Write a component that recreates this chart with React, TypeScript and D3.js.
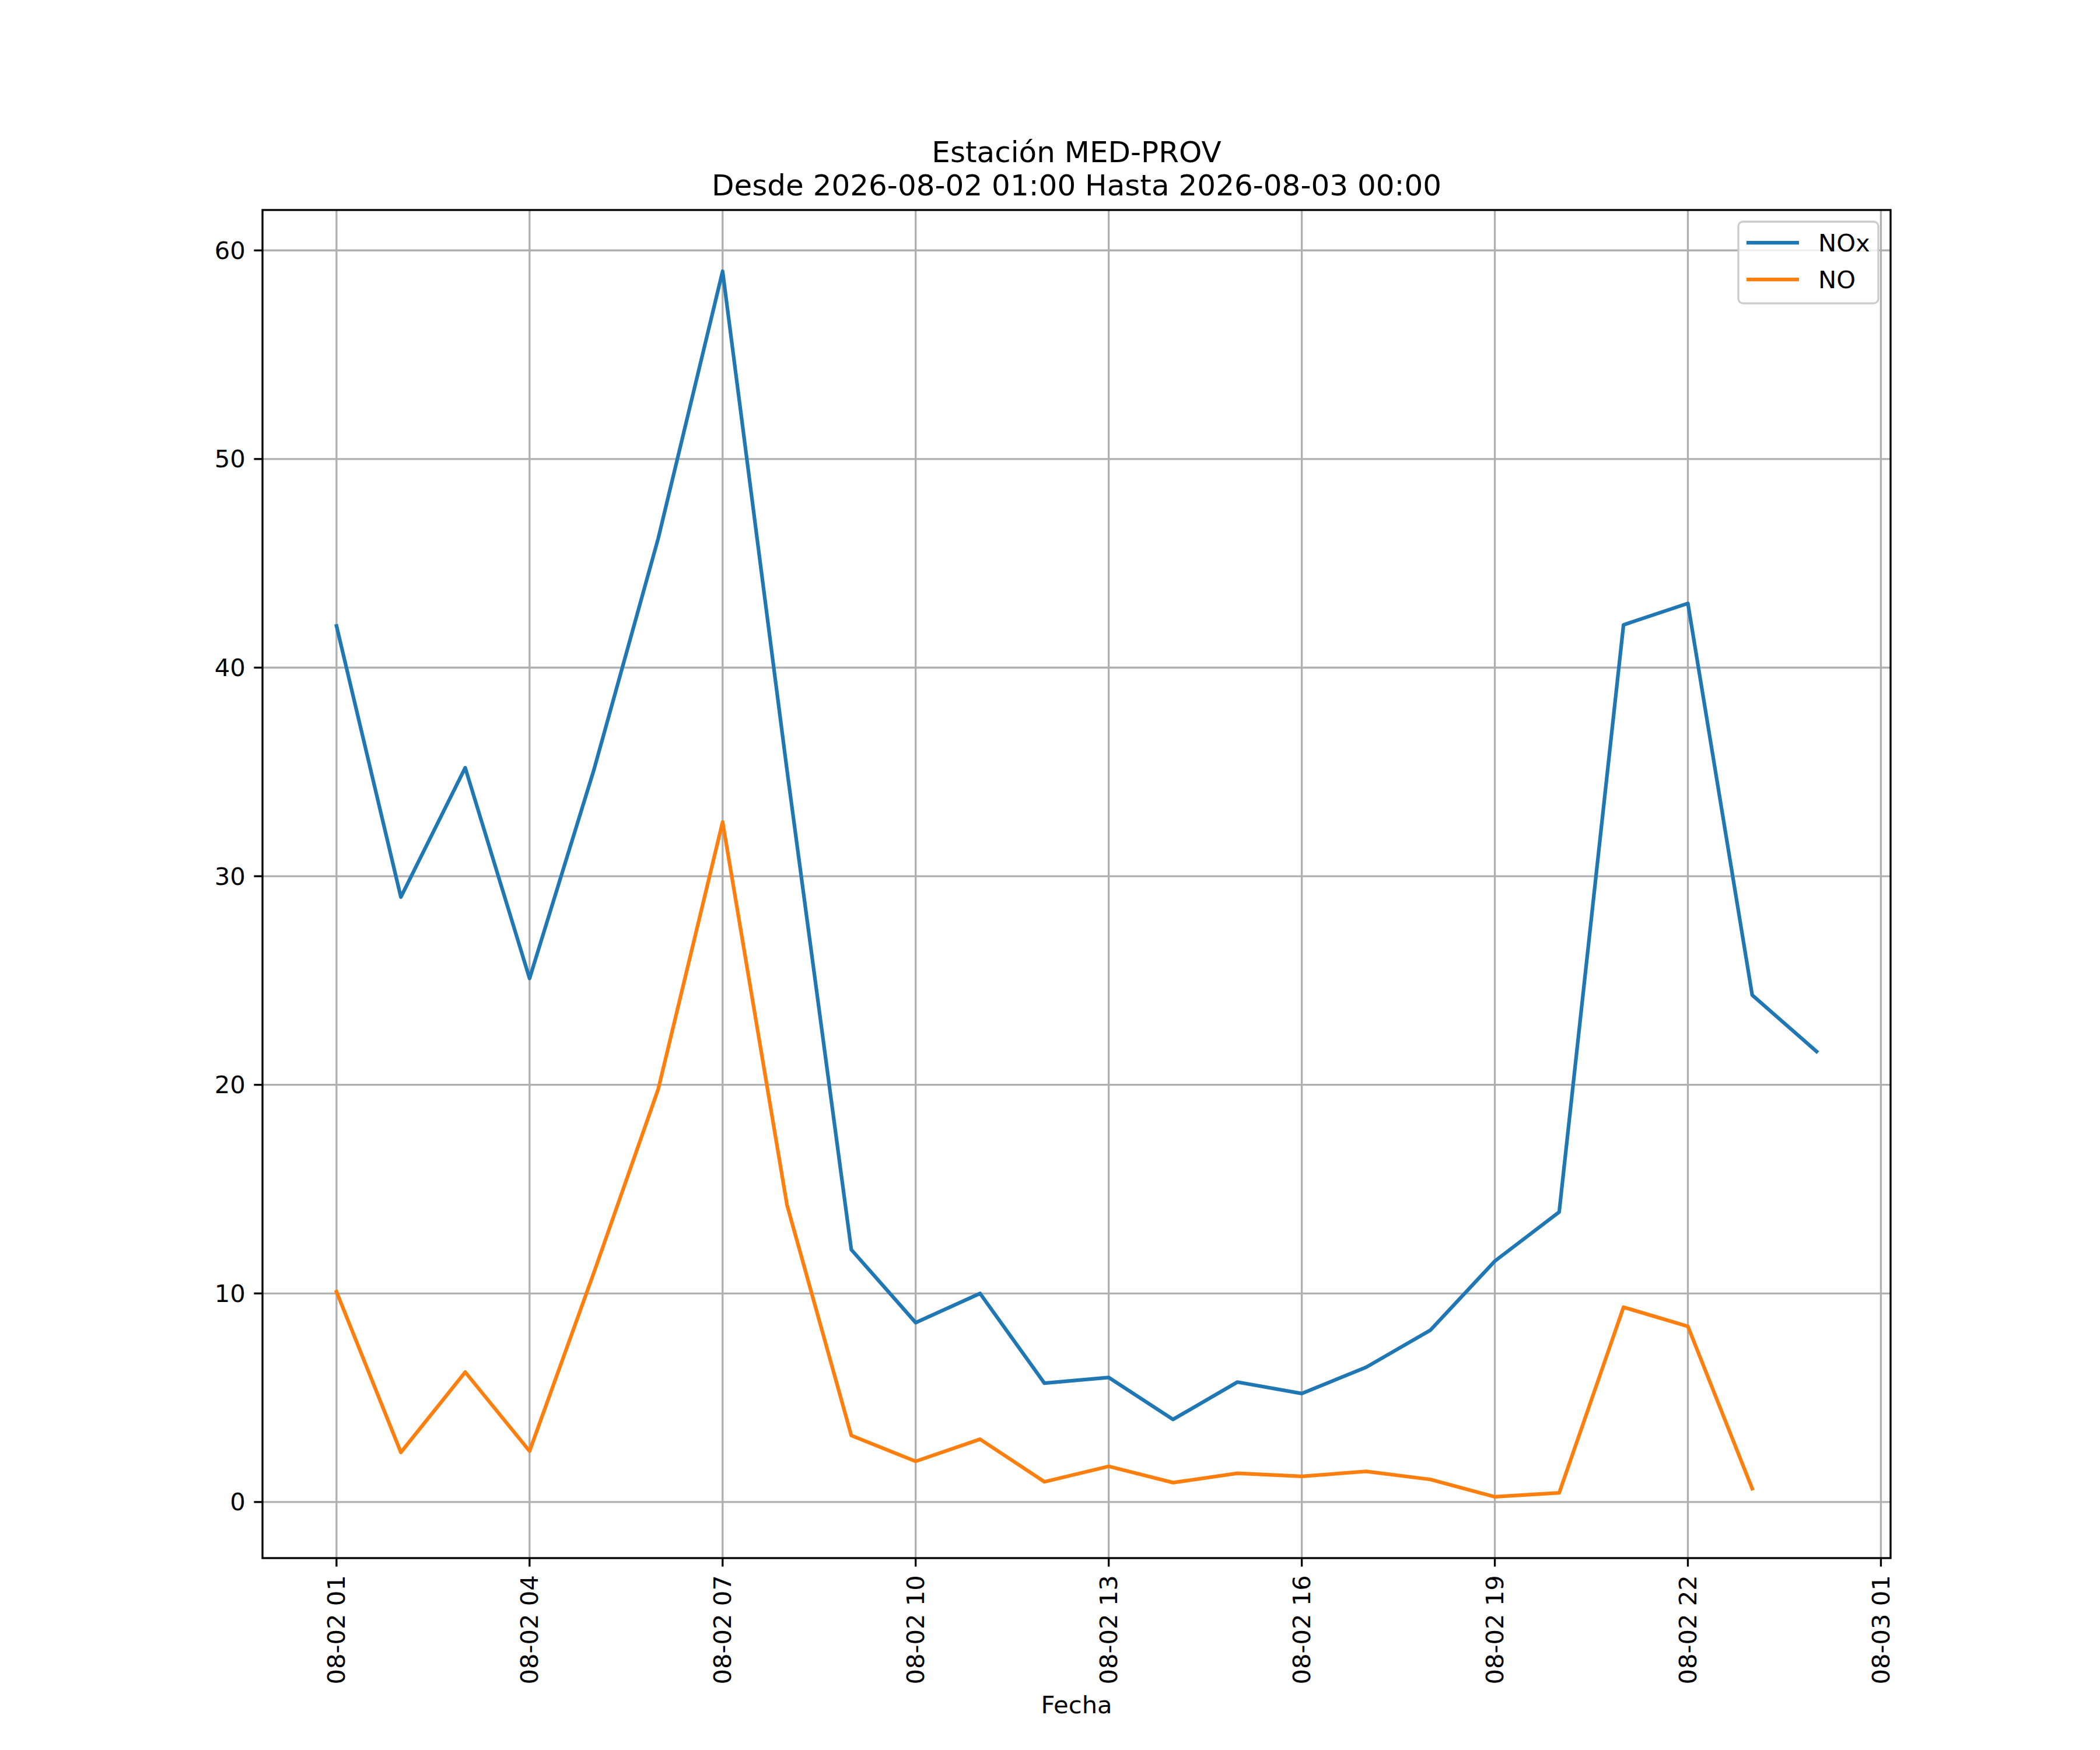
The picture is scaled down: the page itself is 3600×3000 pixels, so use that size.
import { useEffect, useMemo } from "react";
import * as d3 from "d3";

const WIDTH = 3600;
const HEIGHT = 3000;
const MARGIN = { top: 360, right: 359, bottom: 329, left: 450 };
const FONT = "'DejaVu Sans', sans-serif";

const TITLE = ["Estación MED-PROV", "Desde 2026-08-02 01:00 Hasta 2026-08-03 00:00"];
const X_LABEL = "Fecha";

const TIMES = [
  "2026-08-02 01:00", "2026-08-02 02:00", "2026-08-02 03:00", "2026-08-02 04:00",
  "2026-08-02 05:00", "2026-08-02 06:00", "2026-08-02 07:00", "2026-08-02 08:00",
  "2026-08-02 09:00", "2026-08-02 10:00", "2026-08-02 11:00", "2026-08-02 12:00",
  "2026-08-02 13:00", "2026-08-02 14:00", "2026-08-02 15:00", "2026-08-02 16:00",
  "2026-08-02 17:00", "2026-08-02 18:00", "2026-08-02 19:00", "2026-08-02 20:00",
  "2026-08-02 21:00", "2026-08-02 22:00", "2026-08-02 23:00", "2026-08-03 00:00",
];

const NOX = [
  42.0, 29.0, 35.2, 25.1, 35.1, 46.2, 59.0, 35.1, 12.1, 8.6, 10.0, 5.7,
  5.97, 3.96, 5.75, 5.2, 6.46, 8.24, 11.55, 13.9, 42.05, 43.08, 24.3, 21.6,
];

const NO: (number | null)[] = [
  10.08, 2.38, 6.23, 2.44, 11.0, 19.8, 32.6, 14.25, 3.19, 1.95, 3.01, 0.97,
  1.71, 0.93, 1.38, 1.23, 1.47, 1.08, 0.25, 0.44, 9.34, 8.42, 0.64, null,
];

const SERIES = [
  { name: "NOx", color: "#1f77b4", values: NOX },
  { name: "NO", color: "#ff7f0e", values: NO },
];

const Y_TICKS = [0, 10, 20, 30, 40, 50, 60];

type Pt = { t: Date; v: number | null };

export default function App() {
  useEffect(() => {
    document.body.style.margin = "0";
  }, []);

  const parse = d3.timeParse("%Y-%m-%d %H:%M");
  const dates = TIMES.map((s) => parse(s) as Date);

  const x0 = MARGIN.left;
  const x1 = WIDTH - MARGIN.right;
  const y0 = HEIGHT - MARGIN.bottom;
  const y1 = MARGIN.top;

  const xScale = useMemo(() => {
    const [a, b] = d3.extent(dates) as [Date, Date];
    const pad = (b.getTime() - a.getTime()) * 0.05;
    return d3
      .scaleTime()
      .domain([new Date(a.getTime() - pad), new Date(b.getTime() + pad)])
      .range([x0, x1]);
  }, []);

  const yScale = useMemo(() => {
    const all = [...NOX, ...(NO.filter((v) => v != null) as number[])];
    const lo = d3.min(all) as number;
    const hi = d3.max(all) as number;
    const pad = (hi - lo) * 0.05;
    return d3.scaleLinear().domain([lo - pad, hi + pad]).range([y0, y1]);
  }, []);

  const xTicks = d3.timeHour.range(dates[0], new Date(dates[dates.length - 1].getTime() + 2 * 3600e3), 3);
  const fmt = d3.timeFormat("%m-%d %H");

  const line = d3
    .line<Pt>()
    .defined((d) => d.v != null)
    .x((d) => xScale(d.t))
    .y((d) => yScale(d.v as number));

  const lw = 6.25;
  const gw = 3.33;
  const fs = 41.67;
  const tickLen = 14.6;

  const legX = 2980;
  const legY = 380;

  return (
    <svg width={WIDTH} height={HEIGHT} style={{ display: "block", background: "#fff" }} fontFamily={FONT}>
      <rect x={0} y={0} width={WIDTH} height={HEIGHT} fill="#fff" />
      <clipPath id="plot-clip">
        <rect x={x0} y={y1} width={x1 - x0} height={y0 - y1} />
      </clipPath>

      {/* grid */}
      <g stroke="#b0b0b0" strokeWidth={gw}>
        {xTicks.map((t) => (
          <line key={`gx${t.getTime()}`} x1={xScale(t)} x2={xScale(t)} y1={y1} y2={y0} />
        ))}
        {Y_TICKS.map((v) => (
          <line key={`gy${v}`} x1={x0} x2={x1} y1={yScale(v)} y2={yScale(v)} />
        ))}
      </g>

      {/* series */}
      <g clipPath="url(#plot-clip)">
        {SERIES.map((s) => (
          <path
            key={s.name}
            d={line(dates.map((t, i) => ({ t, v: s.values[i] }))) ?? ""}
            fill="none"
            stroke={s.color}
            strokeWidth={lw}
            strokeLinejoin="round"
            strokeLinecap="square"
          />
        ))}
      </g>

      {/* frame */}
      <rect x={x0} y={y1} width={x1 - x0} height={y0 - y1} fill="none" stroke="#000" strokeWidth={gw} />

      {/* y ticks */}
      {Y_TICKS.map((v) => (
        <g key={`yt${v}`}>
          <line x1={x0 - tickLen} x2={x0} y1={yScale(v)} y2={yScale(v)} stroke="#000" strokeWidth={gw} />
          <text x={x0 - tickLen - 14.6} y={yScale(v)} fontSize={fs} textAnchor="end" dominantBaseline="central">
            {v}
          </text>
        </g>
      ))}

      {/* x ticks */}
      {xTicks.map((t) => (
        <g key={`xt${t.getTime()}`}>
          <line x1={xScale(t)} x2={xScale(t)} y1={y0} y2={y0 + tickLen} stroke="#000" strokeWidth={gw} />
          <text
            transform={`translate(${xScale(t)},${y0 + tickLen + 14.6}) rotate(-90)`}
            fontSize={fs}
            textAnchor="end"
            dominantBaseline="central"
          >
            {fmt(t)}
          </text>
        </g>
      ))}

      <text x={(x0 + x1) / 2} y={2937} fontSize={fs} textAnchor="middle">
        {X_LABEL}
      </text>

      {/* title */}
      <text x={(x0 + x1) / 2} y={y1 - 25 - 57} fontSize={50} textAnchor="middle">
        {TITLE[0]}
      </text>
      <text x={(x0 + x1) / 2} y={y1 - 25} fontSize={50} textAnchor="middle">
        {TITLE[1]}
      </text>

      {/* legend */}
      <rect
        x={legX}
        y={legY}
        width={240}
        height={140}
        rx={8}
        fill="#fff"
        fillOpacity={0.8}
        stroke="#cccccc"
        strokeWidth={gw}
      />
      {SERIES.map((s, i) => {
        const ly = 416 + i * 63;
        return (
          <g key={`leg${s.name}`}>
            <line x1={2994} x2={3084} y1={ly} y2={ly} stroke={s.color} strokeWidth={lw} />
            <text x={3117} y={ly} fontSize={fs} dominantBaseline="central">
              {s.name}
            </text>
          </g>
        );
      })}
    </svg>
  );
}
